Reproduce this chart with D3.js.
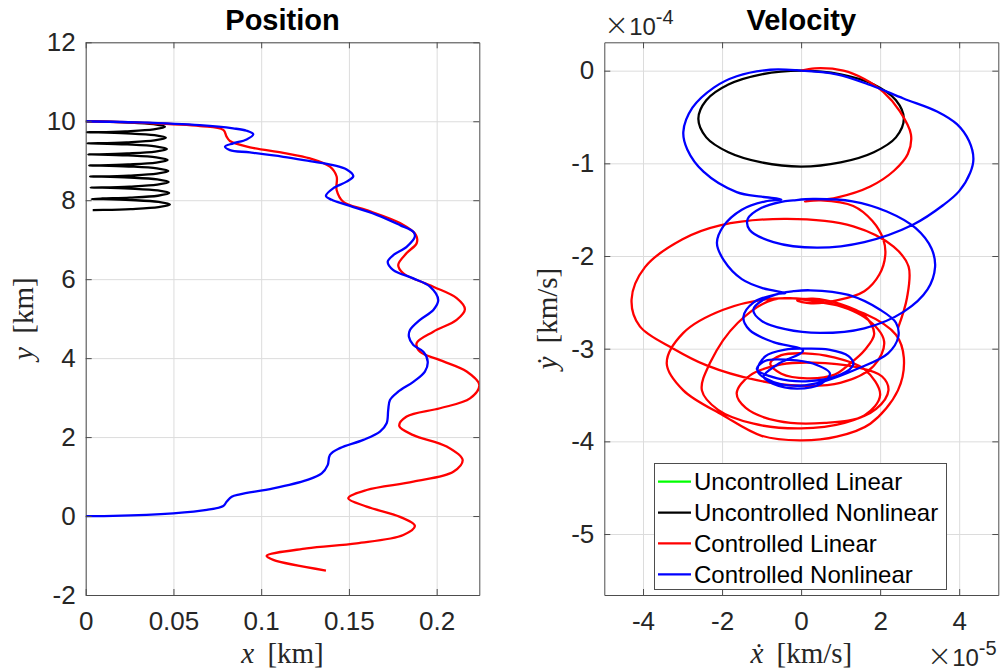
<!DOCTYPE html>
<html>
<head>
<meta charset="utf-8">
<script src="https://cdn.jsdelivr.net/npm/d3@7"></script>
<style>
  body { margin: 0; background: #fff; }
  text { font-family: "Liberation Sans", Arial, sans-serif; fill: #262626; }
  .lbl { font-family: "Liberation Serif", "DejaVu Serif", serif; }
</style>
</head>
<body>
<svg id="fig" width="1000" height="672"></svg>
<script>
// ---- tick labels ----
const posXTicks = [0, 0.05, 0.1, 0.15, 0.2];
const posYTicks = [-2, 0, 2, 4, 6, 8, 10, 12];
const velXTicks = [-4, -2, 0, 2, 4];          // x 1e-5
const velYTicks = [-5, -4, -3, -2, -1, 0];    // x 1e-4

const seriesNames = ["Uncontrolled Linear", "Uncontrolled Nonlinear", "Controlled Linear", "Controlled Nonlinear"];
const seriesColors = ["#00ff00", "#000000", "#ff0000", "#0000ff"];

// ---- position [x km, y km] ----
const posUncNonlin = [
  [0,10],[0.0066,9.9965],[0.0226,9.9745],[0.0387,9.9265],[0.0452,9.86],[0.0387,9.7933],[0.0226,9.7453],[0.0066,9.7233],
  [0.0006,9.72],[0.0072,9.7165],[0.0232,9.6945],[0.0392,9.6465],[0.0457,9.58],[0.0392,9.5133],[0.0232,9.4653],[0.0072,9.4433],
  [0.0009,9.44],[0.0076,9.4365],[0.0236,9.4145],[0.0397,9.3665],[0.0463,9.30],[0.0397,9.2333],[0.0236,9.1853],[0.0076,9.1633],
  [0.0015,9.16],[0.0081,9.1565],[0.0241,9.1345],[0.0402,9.0865],[0.0467,9.02],[0.0402,8.9533],[0.0241,8.9053],[0.0081,8.8833],
  [0.002,8.88],[0.0086,8.8765],[0.0246,8.8545],[0.0406,8.8065],[0.0471,8.74],[0.0406,8.6733],[0.0246,8.6253],[0.0086,8.6033],
  [0.0025,8.60],[0.0091,8.5965],[0.025,8.5745],[0.0408,8.5265],[0.0473,8.46],[0.0408,8.3933],[0.025,8.3453],[0.0091,8.3233],
  [0.0028,8.32],[0.0094,8.3165],[0.0252,8.2945],[0.0411,8.2465],[0.0476,8.18],[0.0411,8.1133],[0.0252,8.0653],[0.0094,8.0433],
  [0.0034,8.03],[0.01,8.0265],[0.0257,8.0045],[0.0415,7.9565],[0.048,7.89],[0.0415,7.8233],[0.0257,7.7753],[0.01,7.7533],
  [0.004,7.75]
];
const posCtrlLin = [
  [0,10],[0.03,9.965],[0.0652,9.88],[0.0784,9.78],[0.0803,9.61],[0.0822,9.50],[0.0936,9.34],[0.1126,9.20],
  [0.1278,9.06],[0.1392,8.85],[0.143,8.60],[0.143,8.26],[0.1468,7.96],[0.1601,7.75],[0.1791,7.42],[0.1882,7.12],
  [0.1886,6.91],[0.1829,6.66],[0.1781,6.36],[0.181,6.15],[0.1981,5.81],[0.2114,5.52],[0.2161,5.24],[0.2114,4.97],
  [0.1981,4.67],[0.1886,4.38],[0.1905,4.16],[0.2019,3.95],[0.2171,3.66],[0.2243,3.32],[0.219,2.98],[0.2019,2.73],
  [0.1829,2.52],[0.1787,2.28],[0.1867,2.05],[0.2057,1.76],[0.2148,1.42],[0.2095,1.12],[0.1867,0.87],[0.1601,0.66],
  [0.1496,0.45],[0.1601,0.24],[0.1791,-0.02],[0.1876,-0.25],[0.181,-0.48],[0.1544,-0.69],[0.1259,-0.82],[0.1031,-1.01],
  [0.1069,-1.11],[0.1369,-1.38]
];
const posCtrlNonlin = [
  [0,10],[0.03,9.97],[0.065,9.90],[0.084,9.82],[0.0917,9.76],[0.0955,9.67],[0.0917,9.54],[0.0841,9.44],
  [0.0794,9.36],[0.0822,9.27],[0.0936,9.21],[0.1126,9.10],[0.1278,8.99],[0.141,8.89],[0.1487,8.78],[0.1525,8.61],
  [0.1487,8.47],[0.141,8.30],[0.1369,8.11],[0.1402,8.01],[0.1487,7.88],[0.1658,7.63],[0.1791,7.37],[0.1867,7.20],
  [0.1876,7.08],[0.1829,6.82],[0.1753,6.61],[0.1721,6.44],[0.1753,6.23],[0.1867,6.02],[0.1962,5.81],[0.2009,5.47],
  [0.1981,5.22],[0.1905,4.97],[0.1848,4.71],[0.1842,4.54],[0.1867,4.33],[0.1924,4.16],[0.1949,3.91],[0.1933,3.66],
  [0.1867,3.40],[0.1781,3.15],[0.1734,2.94],[0.1724,2.69],[0.1715,2.35],[0.1677,2.14],[0.1582,1.93],[0.1449,1.72],
  [0.1392,1.55],[0.1379,1.29],[0.1345,1.08],[0.1259,0.91],[0.1069,0.70],[0.0879,0.55],[0.0832,0.49],[0.0803,0.36],
  [0.0784,0.255],[0.069,0.154],[0.0499,0.07],[0.0157,0.005],[0,0]
];

// ---- velocity [xdot 1e-5 km/s, ydot 1e-4 km/s] ----
const velUncNonlin = [
  [0,0],[1.0,-0.04],[1.84,-0.15],[2.4,-0.32],[2.6,-0.52],[2.4,-0.72],[1.84,-0.88],[1.0,-0.99],
  [0,-1.035],[-1.0,-0.99],[-1.84,-0.88],[-2.4,-0.72],[-2.6,-0.52],[-2.4,-0.32],[-1.84,-0.15],[-1.0,-0.04]
];
const velCtrlLin = [
  [0,0],[0.35,0.025],[1.07,0.0],[1.6,-0.09],[2.08,-0.23],[2.5,-0.44],[2.78,-0.69],[2.7,-0.9],[2.35,-1.08],
  [1.75,-1.25],[0.9,-1.37],[0.35,-1.40],[0.1,-1.41],
  [0.5,-1.40],[1.32,-1.46],[1.8,-1.62],[2.08,-1.82],[2.13,-1.99],[1.98,-2.2],[1.6,-2.38],[0.9,-2.48],[0.25,-2.51],[-0.1,-2.48],
  [0.3,-2.46],[1.0,-2.52],[1.6,-2.64],[1.85,-2.84],[1.6,-3.02],[1.24,-3.16],[0.85,-3.28],[0.15,-3.32],[-0.5,-3.27],
  [-0.78,-3.16],[-0.5,-3.07],[0.1,-3.05],[0.8,-3.09],
  [1.6,-3.22],[2.0,-3.5],[1.6,-3.72],[0.6,-3.8],[-0.6,-3.78],[-1.4,-3.64],[-1.63,-3.48],[-1.3,-3.29],[-0.5,-3.17],[0.3,-3.15],
  [1.4,-3.2],[2.05,-3.3],[2.21,-3.45],[1.9,-3.65],[1.1,-3.8],[0,-3.86],[-1.2,-3.81],[-2.1,-3.66],[-2.51,-3.45],
  [-2.3,-3.15],[-1.6,-2.72],[-0.7,-2.47],
  [0.5,-2.5],[1.6,-2.62],[2.4,-2.85],[2.6,-3.1],[2.45,-3.45],[1.75,-3.81],[0.9,-3.95],[-0.03,-3.99],[-1.0,-3.94],
  [-1.97,-3.72],[-2.98,-3.45],[-3.40,-3.16],[-2.98,-2.83],[-1.97,-2.58],[-0.7,-2.46],
  [0.6,-2.5],[1.6,-2.66],[2.1,-2.92],[1.83,-3.19],[0.99,-3.37],[-0.03,-3.40],[-1.12,-3.34],[-2.39,-3.18],[-3.23,-3.0],
  [-4.08,-2.76],[-4.29,-2.47],[-3.95,-2.12],[-3.0,-1.82],[-2.05,-1.67],[-0.36,-1.60],[1.32,-1.68],[2.34,-1.90],
  [2.72,-2.115],[2.68,-2.45],[2.45,-2.78]
];
const velCtrlNonlin = [
  [0,0],[0.9,-0.04],[1.75,-0.155],[2.59,-0.30],[3.44,-0.44],[3.95,-0.58],[4.25,-0.76],[4.36,-0.95],[4.28,-1.1],
  [4.0,-1.3],[3.6,-1.45],[2.84,-1.66],[1.6,-1.85],[0.4,-1.91],[-0.7,-1.85],[-1.3,-1.72],[-1.35,-1.6],[-1.0,-1.48],
  [-0.5,-1.415],[-0.2,-1.40],
  [0.3,-1.385],[1.3,-1.41],[2.17,-1.52],[2.9,-1.70],[3.3,-1.92],[3.39,-2.12],[3.2,-2.36],[2.6,-2.6],[1.6,-2.78],
  [0.48,-2.83],[-0.4,-2.79],[-1.0,-2.7],[-1.21,-2.58],[-0.95,-2.47],[-0.5,-2.40],[-0.2,-2.38],
  [0.23,-2.37],[1.2,-2.42],[2.0,-2.58],[2.4,-2.72],[2.46,-2.87],[2.2,-3.05],[1.41,-3.22],[0.6,-3.35],[-0.03,-3.40],
  [-0.7,-3.36],[-1.1,-3.24],[-0.9,-3.08],[-0.4,-3.01],[0.06,-3.0],
  [0.7,-3.01],[1.2,-3.08],[1.32,-3.17],[1.0,-3.28],[0.2,-3.35],[-0.6,-3.32],[-1.12,-3.22],[-0.9,-3.13],[-0.3,-3.12],
  [0.3,-3.16],[0.73,-3.27],[0.5,-3.38],[-0.1,-3.43],[-0.7,-3.38],[-0.95,-3.30],[-0.6,-3.17],[0.05,-3.02],
  [-0.7,-2.93],[-1.3,-2.80],[-1.46,-2.66],[-1.2,-2.50],[-0.6,-2.41],[-0.4,-2.40],
  [-0.95,-2.35],[-1.5,-2.25],[-1.95,-2.05],[-2.13,-1.86],[-1.97,-1.68],[-1.5,-1.50],[-0.9,-1.41],[-0.5,-1.39],
  [-1.0,-1.36],[-1.63,-1.31],[-2.47,-1.09],[-2.88,-0.85],[-2.98,-0.66],[-2.75,-0.40],[-2.2,-0.18],[-1.63,-0.06],
  [-0.78,0.01],[-0.11,0.005],[0,0]
];

const svg = d3.select("#fig");

function makePanel(opt) {
  const g = svg.append("g");
  const x = d3.scaleLinear().domain(opt.xDomain).range([opt.left, opt.right]);
  const y = d3.scaleLinear().domain(opt.yDomain).range([opt.bottom, opt.top]);
  const w = opt.right - opt.left, h = opt.bottom - opt.top;

  // grid
  g.append("g").attr("transform", `translate(0,${opt.bottom})`)
    .call(d3.axisBottom(x).tickValues(opt.xTicks).tickSize(-h).tickFormat(""))
    .call(a => a.select(".domain").remove())
    .selectAll("line").attr("stroke", "#dcdcdc");
  g.append("g").attr("transform", `translate(${opt.left},0)`)
    .call(d3.axisLeft(y).tickValues(opt.yTicks).tickSize(-w).tickFormat(""))
    .call(a => a.select(".domain").remove())
    .selectAll("line").attr("stroke", "#dcdcdc");

  // curves
  const clipId = "clip" + opt.id;
  svg.append("clipPath").attr("id", clipId).append("rect")
    .attr("x", opt.left).attr("y", opt.top).attr("width", w).attr("height", h);
  const line = d3.line().x(d => x(d[0])).y(d => y(d[1])).curve(d3.curveCatmullRom.alpha(0.5));
  const lineClosed = d3.line().x(d => x(d[0])).y(d => y(d[1])).curve(d3.curveCatmullRomClosed.alpha(0.5));
  const curves = g.append("g").attr("clip-path", `url(#${clipId})`);
  opt.series.forEach(s => {
    curves.append("path")
      .attr("d", s.closed ? lineClosed(s.data) : line(s.data))
      .attr("fill", "none")
      .attr("stroke", s.color)
      .attr("stroke-width", 2.3)
      .attr("stroke-linejoin", "round");
  });

  // axes with inward ticks
  const axColor = "#4d4d4d";
  const fmt = opt.fmt;
  const bottomAx = g.append("g").attr("transform", `translate(0,${opt.bottom})`)
    .call(d3.axisBottom(x).tickValues(opt.xTicks).tickSizeInner(-6).tickSizeOuter(0).tickPadding(17).tickFormat(fmt.x));
  const leftAx = g.append("g").attr("transform", `translate(${opt.left},0)`)
    .call(d3.axisLeft(y).tickValues(opt.yTicks).tickSizeInner(-6).tickSizeOuter(0).tickPadding(10).tickFormat(fmt.y));
  const topAx = g.append("g").attr("transform", `translate(0,${opt.top})`)
    .call(d3.axisTop(x).tickValues(opt.xTicks).tickSizeInner(-6).tickSizeOuter(0).tickFormat(""));
  const rightAx = g.append("g").attr("transform", `translate(${opt.right},0)`)
    .call(d3.axisRight(y).tickValues(opt.yTicks).tickSizeInner(-6).tickSizeOuter(0).tickFormat(""));
  [bottomAx, leftAx, topAx, rightAx].forEach(a => {
    a.selectAll("path,line").attr("stroke", axColor);
    a.selectAll("text").attr("font-size", 26).attr("fill", "#262626")
      .attr("font-family", "'Liberation Sans', Arial, sans-serif");
  });

  // title
  svg.append("text").attr("x", (opt.left + opt.right) / 2).attr("y", 30)
    .attr("text-anchor", "middle").attr("font-size", 29).attr("font-weight", "bold")
    .style("fill", "#000").text(opt.title);

  // x label
  const xl = svg.append("text").attr("class", "lbl")
    .attr("x", (opt.left + opt.right) / 2).attr("y", 663)
    .attr("text-anchor", "middle").attr("font-size", 29);
  xl.append("tspan").attr("font-style", "italic").text(opt.xVar);
  xl.append("tspan").attr("dx", 6).text(" [" + opt.unit + "]");

  // y label
  const yl = svg.append("text").attr("class", "lbl")
    .attr("transform", `translate(${opt.yLabelX},${(opt.top + opt.bottom) / 2}) rotate(-90)`)
    .attr("text-anchor", "middle").attr("font-size", 29);
  yl.append("tspan").attr("font-style", "italic").text(opt.yVar);
  yl.append("tspan").attr("dx", 6).text(" [" + opt.unit + "]");

  return { x, y };
}

makePanel({
  id: "pos", left: 85.7, right: 479.3, top: 42.3, bottom: 595,
  xDomain: [0, 0.2243], yDomain: [-2, 12],
  xTicks: posXTicks, yTicks: posYTicks,
  fmt: { x: d => String(d), y: d => String(d) },
  title: "Position", xVar: "x", yVar: "y", unit: "km", yLabelX: 33,
  series: [
    { data: posUncNonlin, color: seriesColors[1] },
    { data: posCtrlLin, color: seriesColors[2] },
    { data: posCtrlNonlin, color: seriesColors[3] }
  ]
});

makePanel({
  id: "vel", left: 604.3, right: 998.3, top: 42.3, bottom: 595,
  xDomain: [-4.98, 4.99], yDomain: [-5.658, 0.306],
  xTicks: velXTicks, yTicks: velYTicks,
  fmt: { x: d => String(d), y: d => String(d) },
  title: "Velocity", xVar: "\u1E8B", yVar: "\u1E8F", unit: "km/s", yLabelX: 557,
  series: [
    { data: velUncNonlin, color: seriesColors[1], closed: true },
    { data: velCtrlLin, color: seriesColors[2] },
    { data: velCtrlNonlin, color: seriesColors[3] }
  ]
});

// exponent labels
function expLabel(x, y, exp) {
  const t = svg.append("text").attr("x", x).attr("y", y);
  t.append("tspan").attr("font-size", 30).attr("font-family", "'DejaVu Sans', sans-serif")
    .attr("font-weight", 300).text("\u00D7");
  t.append("tspan").attr("font-size", 24).text("10");
  t.append("tspan").attr("dy", -11).attr("font-size", 20).text(exp);
}
expLabel(604, 35, "-4");
expLabel(927, 666, "-5");

// legend
const leg = svg.append("g");
leg.append("rect").attr("x", 654.5).attr("y", 463.5).attr("width", 292).attr("height", 126)
  .attr("fill", "#fff").attr("stroke", "#4d4d4d").attr("stroke-width", 1);
const rowY = d3.scalePoint().domain(seriesNames).range([481.7, 574.3]);
seriesNames.forEach((name, i) => {
  const yy = rowY(name);
  leg.append("line").attr("x1", 658).attr("x2", 691).attr("y1", yy).attr("y2", yy)
    .attr("stroke", seriesColors[i]).attr("stroke-width", 2.3);
  leg.append("text").attr("x", 694).attr("y", yy).attr("dy", "0.36em")
    .attr("font-size", 24).style("fill", "#000").text(name);
});
</script>
</body>
</html>
